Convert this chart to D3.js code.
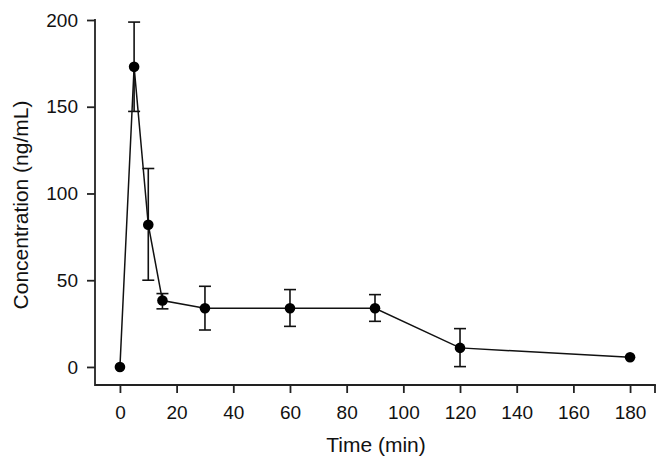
<!DOCTYPE html>
<html>
<head>
<meta charset="utf-8">
<script src="https://cdn.jsdelivr.net/npm/d3@7"></script>
<style>
  html, body { margin: 0; padding: 0; background: #fff; }
  svg { display: block; }
  text { font-family: "Liberation Sans", Arial, sans-serif; fill: #111; }
</style>
</head>
<body>
<svg id="chart" width="668" height="469"></svg>
<script>
// Data
const times = [0, 5, 10, 15, 30, 60, 90, 120, 180];
const conc = [0, 173, 82, 38.3, 33.8, 33.8, 33.8, 11, 5.6];
const errLow = [null, 147.3, 50, 33.5, 21.3, 23.4, 26.3, 0.2, null];
const errHigh = [null, 198.8, 114.4, 42.3, 46.5, 44.6, 41.7, 22.1, null];
const xTicks = [0, 20, 40, 60, 80, 100, 120, 140, 160, 180];
const yTicks = [0, 50, 100, 150, 200];
const xTitle = "Time (min)";
const yTitle = "Concentration (ng/mL)";

const svg = d3.select("#chart");
const x = d3.scaleLinear().domain([-8.8, 188.8]).range([95, 655]);
const y = d3.scaleLinear().domain([-10.4, 200]).range([385, 20]);

const axisColor = "#222";

// Y axis
const gy = svg.append("g").attr("transform", "translate(95,0)")
  .call(d3.axisLeft(y).tickValues(yTicks).tickSize(8).tickSizeOuter(0).tickPadding(9));
gy.select(".domain").remove();
gy.selectAll(".tick line").attr("stroke", axisColor).attr("stroke-width", 1.8);
gy.selectAll(".tick text").attr("font-size", 19).attr("fill", "#111")
  .style("font-family", '"Liberation Sans", Arial, sans-serif');
svg.append("line").attr("x1", 95).attr("x2", 95).attr("y1", y(200) - 0.9).attr("y2", 385 + 0.9)
  .attr("stroke", axisColor).attr("stroke-width", 1.8);

// X axis
const gx = svg.append("g").attr("transform", "translate(0,385)")
  .call(d3.axisBottom(x).tickValues(xTicks).tickSize(8).tickSizeOuter(0).tickPadding(13));
gx.select(".domain").remove();
gx.selectAll(".tick line").attr("stroke", axisColor).attr("stroke-width", 1.8);
gx.selectAll(".tick text").attr("font-size", 19).attr("fill", "#111")
  .style("font-family", '"Liberation Sans", Arial, sans-serif');
svg.append("line").attr("x1", 95).attr("x2", 655.9).attr("y1", 385).attr("y2", 385)
  .attr("stroke", axisColor).attr("stroke-width", 1.8);
svg.append("line").attr("x1", 655).attr("x2", 655).attr("y1", 385).attr("y2", 393)
  .attr("stroke", axisColor).attr("stroke-width", 1.8);

// Titles
svg.append("text").attr("x", 376).attr("y", 452).attr("text-anchor", "middle")
  .attr("font-size", 21).text(xTitle);
svg.append("text").attr("transform", "translate(28,205) rotate(-90)")
  .attr("text-anchor", "middle").attr("font-size", 21).text(yTitle);

// Error bars
const cap = 6;
const eb = svg.append("g").attr("stroke", "#111").attr("stroke-width", 1.6);
times.forEach((t, i) => {
  if (errLow[i] == null) return;
  const cx = x(t);
  eb.append("line").attr("x1", cx).attr("x2", cx).attr("y1", y(errLow[i])).attr("y2", y(errHigh[i]));
  eb.append("line").attr("x1", cx - cap).attr("x2", cx + cap).attr("y1", y(errLow[i])).attr("y2", y(errLow[i]));
  eb.append("line").attr("x1", cx - cap).attr("x2", cx + cap).attr("y1", y(errHigh[i])).attr("y2", y(errHigh[i]));
});

// Line
const line = d3.line().x((d, i) => x(times[i])).y(d => y(d));
svg.append("path").datum(conc).attr("d", line).attr("fill", "none")
  .attr("stroke", "#111").attr("stroke-width", 1.5);

// Points
svg.append("g").selectAll("circle").data(conc).join("circle")
  .attr("cx", (d, i) => x(times[i])).attr("cy", d => y(d)).attr("r", 5.3).attr("fill", "#000");
</script>
</body>
</html>
